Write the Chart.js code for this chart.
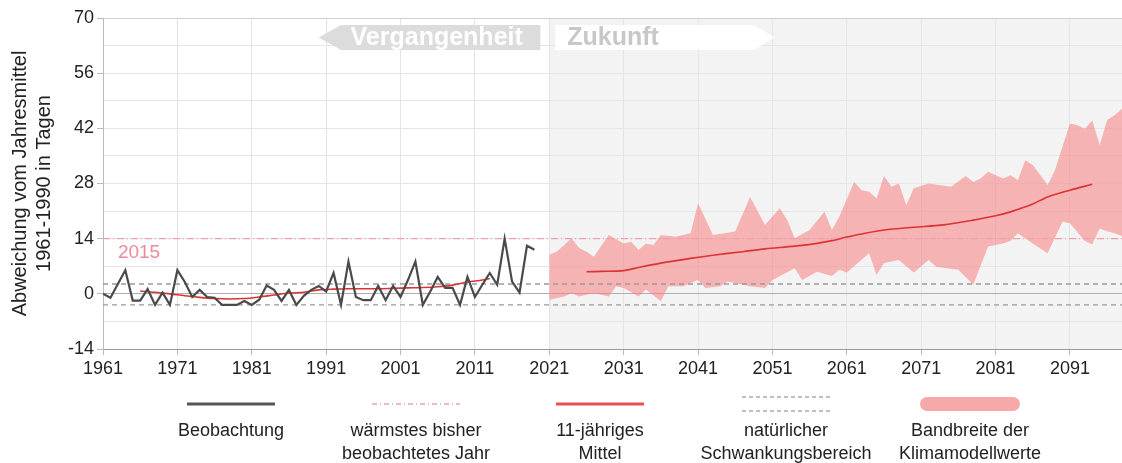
<!DOCTYPE html>
<html>
<head>
<meta charset="utf-8">
<title>Abweichung vom Jahresmittel</title>
<script src="https://cdn.jsdelivr.net/npm/chart.js@4/dist/chart.umd.min.js"></script>
<style>
  body { margin: 0; background: #fff; }
  #wrap { width: 1122px; height: 463px; position: relative; }
</style>
</head>
<body>
<div id="wrap"><canvas id="tageChart"></canvas></div>
<script>
// observed yearly deviation in days, 1961-2019
var firstYear = 1961;
var obsValues = [
  0, -1, 2.5, 6, -1.7, -1.7, 1.2, -2.8, 0.3, -2.8,
  6, 3, -0.8, 1, -0.8, -1, -2.8, -2.8, -2.8, -1.8,
  -2.8, -1.5, 2.1, 1, -1.8, 1, -2.8, -0.5, 1, 2,
  0.6, 5.3, -2.8, 8.2, -0.8, -1.6, -1.6, 2, -1.6, 2,
  -0.8, 3.5, 8.2, -2.8, 0.6, 4.3, 1.5, 1.5, -2.8, 4.3,
  -0.8, 2.3, 5.3, 2.3, 14, 3.1, 0.3, 12.2, 11.2
];

// 11-year running mean, observed part
var meanPastYears = [1966, 1968, 1970, 1972, 1974, 1976, 1978, 1980, 1982, 1984, 1986, 1988, 1990, 1992, 1994, 1996, 1998, 2000, 2002, 2004, 2006, 2008, 2010, 2012, 2013];
var meanPastValues = [0.7, 0.4, 0, -0.5, -0.9, -1.2, -1.3, -1.2, -0.8, -0.3, 0.2, 0.4, 1.0, 1.2, 1.3, 1.3, 1.3, 1.4, 1.5, 1.6, 1.8, 2.2, 3.0, 3.5, 3.9];

// 11-year running mean of the model runs
var meanFutureYears = [2026, 2028, 2031, 2033, 2036, 2040, 2043, 2047, 2050, 2054, 2057, 2059, 2061, 2063, 2066, 2070, 2074, 2078, 2081, 2083, 2086, 2088, 2091, 2094];
var meanFutureValues = [5.6, 5.7, 5.9, 6.7, 7.8, 9.0, 9.8, 10.7, 11.4, 12.1, 12.8, 13.5, 14.4, 15.2, 16.2, 16.9, 17.5, 18.7, 19.8, 20.8, 22.8, 24.6, 26.3, 27.8];

// range of the climate model values
var bandUpperYears = [2021, 2022, 2024, 2025, 2026, 2027, 2029, 2031, 2032, 2033, 2034, 2035, 2036, 2038, 2040, 2041, 2042, 2043, 2046, 2048, 2050, 2052, 2053, 2054, 2056, 2058, 2059, 2060, 2062, 2063, 2064, 2065, 2066, 2067, 2068, 2069, 2070, 2072, 2075, 2077, 2078, 2079, 2080, 2082, 2083, 2084, 2085, 2086, 2088, 2089, 2091, 2092, 2093, 2094, 2095, 2096, 2097, 2098];
var bandUpperValues = [9.9, 10.7, 14.1, 11.6, 10.7, 9.4, 14.9, 12.8, 13.2, 11.1, 12.8, 12.4, 14.9, 14.5, 15.4, 23, 19, 14.9, 15.8, 24.6, 17.5, 21.7, 18.7, 14.1, 16.2, 20.8, 16.2, 19.6, 28.4, 26.3, 25.9, 24.2, 29.9, 27.2, 28, 22.5, 26.8, 28, 27.2, 29.9, 28.4, 29.3, 31, 29.3, 30.1, 28.9, 33.9, 32.7, 27.6, 31.4, 43.2, 42.8, 41.9, 44, 37.7, 44.1, 45.3, 47];
var bandLowerYears = [2021, 2023, 2024, 2025, 2027, 2029, 2030, 2031, 2033, 2034, 2036, 2037, 2039, 2041, 2042, 2044, 2045, 2048, 2050, 2051, 2054, 2055, 2057, 2059, 2060, 2061, 2064, 2065, 2066, 2068, 2070, 2072, 2073, 2076, 2078, 2080, 2082, 2083, 2084, 2086, 2088, 2090, 2091, 2093, 2094, 2095, 2096, 2097, 2098];
var bandLowerValues = [-1.5, -0.7, 0.2, -0.7, 0.2, -0.7, 1.9, 1.5, -0.7, 1.1, -1.9, 1.9, 1.9, 3.5, 1.5, 1.9, 3.1, 1.9, 1.5, 3.5, 6.5, 3.5, 5.6, 4.5, 6.1, 5.4, 10.3, 4.8, 7.8, 8.6, 5.4, 8.6, 6.9, 6.1, 2.3, 12, 12.8, 13.4, 15.4, 12.8, 10.3, 18.3, 17.9, 13.4, 12.6, 16.6, 15.9, 15.4, 14.7];

var warmestYear = 2015;
var naturalRangeLow = -2.8;
var naturalRangeHigh = 2.5;
var futureStart = 2021;

var xMin = 1961;
var xMax = 2098;
var xTickYears = [1961, 1971, 1981, 1991, 2001, 2011, 2021, 2031, 2041, 2051, 2061, 2071, 2081, 2091];
var yMin = -14;
var yMax = 70;

var warmestValue = obsValues[warmestYear - firstYear];

var colObs = '#4a4a4a';
var colMean = '#dc3434';
var colWarm = '#f0a0aa';
var colNatural = '#9a9a9a';
var colBand = 'rgba(245,125,125,0.55)';

function toPoints(years, values) {
  var pts = [];
  for (var i = 0; i < values.length; i++) {
    pts.push({ x: years[i], y: values[i] });
  }
  return pts;
}

var obsPoints = [];
for (var i = 0; i < obsValues.length; i++) {
  obsPoints.push({ x: firstYear + i, y: obsValues[i] });
}

function flatLine(v) {
  return [{ x: xMin, y: v }, { x: xMax, y: v }];
}

Chart.defaults.font.family = "'Liberation Sans', Arial, sans-serif";
Chart.defaults.color = '#222';

// grey background behind the projection years
var futureShade = {
  id: 'futureShade',
  beforeDraw: function (chart) {
    var a = chart.chartArea;
    var x0 = chart.scales.x.getPixelForValue(futureStart);
    var ctx = chart.ctx;
    ctx.save();
    ctx.fillStyle = '#f3f3f3';
    ctx.fillRect(x0, a.top, a.right - x0, a.bottom - a.top);
    ctx.restore();
  }
};

// Vergangenheit / Zukunft arrows and the 2015 label
var annotations = {
  id: 'annotations',
  beforeDatasetsDraw: function (chart) {
    var ctx = chart.ctx;
    var xs = chart.scales.x;
    var ys = chart.scales.y;
    var top = chart.chartArea.top + 7;
    var bot = top + 25;
    var mid = (top + bot) / 2;

    var tip = xs.getPixelForValue(1990);
    var body = xs.getPixelForValue(1993);
    var end = xs.getPixelForValue(2019.8);
    ctx.save();
    ctx.fillStyle = '#dcdcdc';
    ctx.beginPath();
    ctx.moveTo(tip, mid);
    ctx.lineTo(body, top);
    ctx.lineTo(end, top);
    ctx.lineTo(end, bot);
    ctx.lineTo(body, bot);
    ctx.closePath();
    ctx.fill();
    ctx.font = 'bold 25px "Liberation Sans", Arial, sans-serif';
    ctx.fillStyle = '#fff';
    ctx.textAlign = 'center';
    ctx.textBaseline = 'middle';
    ctx.fillText('Vergangenheit', (body + end) / 2 - 4, mid + 1);

    var start = xs.getPixelForValue(2021.8);
    var bodyEnd = xs.getPixelForValue(2048.5);
    var tip2 = xs.getPixelForValue(2051.3);
    ctx.fillStyle = '#ffffff';
    ctx.beginPath();
    ctx.moveTo(start, top);
    ctx.lineTo(bodyEnd, top);
    ctx.lineTo(tip2, mid);
    ctx.lineTo(bodyEnd, bot);
    ctx.lineTo(start, bot);
    ctx.closePath();
    ctx.fill();
    ctx.fillStyle = '#c8c8c8';
    ctx.textAlign = 'left';
    ctx.fillText('Zukunft', start + 12, mid + 1);

    ctx.font = '19px "Liberation Sans", Arial, sans-serif';
    ctx.fillStyle = '#f08a98';
    ctx.textAlign = 'left';
    ctx.textBaseline = 'middle';
    ctx.fillText(String(warmestYear), xs.getPixelForValue(1963), ys.getPixelForValue(warmestValue) + 14);
    ctx.restore();
  }
};

// legend row under the x axis
var legendRow = {
  id: 'legendRow',
  afterDraw: function (chart) {
    var ctx = chart.ctx;
    var items = [
      { cx: 231, kind: 'obs', text: ['Beobachtung'] },
      { cx: 416, kind: 'warm', text: ['wärmstes bisher', 'beobachtetes Jahr'] },
      { cx: 600, kind: 'mean', text: ['11-jähriges', 'Mittel'] },
      { cx: 786, kind: 'natural', text: ['natürlicher', 'Schwankungsbereich'] },
      { cx: 970, kind: 'band', text: ['Bandbreite der', 'Klimamodellwerte'] }
    ];
    var sy = 404;
    ctx.save();
    items.forEach(function (it) {
      var x0 = it.cx - 44;
      var x1 = it.cx + 44;
      ctx.setLineDash([]);
      if (it.kind === 'obs' || it.kind === 'mean') {
        ctx.strokeStyle = it.kind === 'obs' ? '#555' : '#e85050';
        ctx.lineWidth = 3;
        ctx.beginPath();
        ctx.moveTo(x0, sy);
        ctx.lineTo(x1, sy);
        ctx.stroke();
      } else if (it.kind === 'warm') {
        ctx.strokeStyle = colWarm;
        ctx.lineWidth = 1.5;
        ctx.setLineDash([5, 3, 1, 3]);
        ctx.beginPath();
        ctx.moveTo(x0, sy);
        ctx.lineTo(x1, sy);
        ctx.stroke();
      } else if (it.kind === 'natural') {
        ctx.strokeStyle = '#aaa';
        ctx.lineWidth = 1.3;
        ctx.setLineDash([4, 3]);
        ctx.beginPath();
        ctx.moveTo(x0, sy - 7);
        ctx.lineTo(x1, sy - 7);
        ctx.moveTo(x0, sy + 7);
        ctx.lineTo(x1, sy + 7);
        ctx.stroke();
      } else {
        ctx.fillStyle = '#f7a9a9';
        ctx.beginPath();
        ctx.roundRect(it.cx - 50, sy - 7, 100, 14, 7);
        ctx.fill();
      }
      ctx.setLineDash([]);
      ctx.font = '18px "Liberation Sans", Arial, sans-serif';
      ctx.fillStyle = '#222';
      ctx.textAlign = 'center';
      ctx.textBaseline = 'middle';
      it.text.forEach(function (t, k) {
        ctx.fillText(t, it.cx, 431 + k * 23);
      });
    });
    ctx.restore();
  }
};

var ctxEl = document.querySelector('#tageChart');
window.tageChart = new Chart(ctxEl, {
  type: 'line',
  data: {
    datasets: [
      {
        label: 'Beobachtung',
        data: obsPoints,
        borderColor: colObs,
        borderWidth: 2.2,
        pointRadius: 0,
        fill: false
      },
      {
        label: '11-jähriges Mittel',
        data: toPoints(meanPastYears, meanPastValues),
        borderColor: colMean,
        borderWidth: 1.6,
        pointRadius: 0,
        tension: 0.3,
        fill: false
      },
      {
        label: '11-jähriges Mittel Modell',
        data: toPoints(meanFutureYears, meanFutureValues),
        borderColor: colMean,
        borderWidth: 1.6,
        pointRadius: 0,
        tension: 0.3,
        fill: false
      },
      {
        label: 'wärmstes bisher beobachtetes Jahr',
        data: flatLine(warmestValue),
        borderColor: colWarm,
        borderWidth: 1.2,
        borderDash: [7, 3, 1, 3],
        pointRadius: 0,
        fill: false
      },
      {
        label: 'natürlicher Schwankungsbereich oben',
        data: flatLine(naturalRangeHigh),
        borderColor: colNatural,
        borderWidth: 1.3,
        borderDash: [5, 4],
        pointRadius: 0,
        fill: false
      },
      {
        label: 'natürlicher Schwankungsbereich unten',
        data: flatLine(naturalRangeLow),
        borderColor: colNatural,
        borderWidth: 1.3,
        borderDash: [5, 4],
        pointRadius: 0,
        fill: false
      },
      {
        label: 'Bandbreite oben',
        data: toPoints(bandUpperYears, bandUpperValues),
        borderWidth: 0,
        borderColor: 'rgba(0,0,0,0)',
        backgroundColor: colBand,
        pointRadius: 0,
        fill: '+1'
      },
      {
        label: 'Bandbreite unten',
        data: toPoints(bandLowerYears, bandLowerValues),
        borderWidth: 0,
        borderColor: 'rgba(0,0,0,0)',
        pointRadius: 0,
        fill: false
      }
    ]
  },
  options: {
    responsive: true,
    maintainAspectRatio: false,
    animation: false,
    layout: { padding: { top: 18, right: 0, left: 0, bottom: 0 } },
    plugins: {
      legend: { display: false },
      tooltip: { enabled: false }
    },
    scales: {
      x: {
        type: 'linear',
        min: xMin,
        max: xMax,
        afterBuildTicks: function (scale) {
          scale.ticks = xTickYears.map(function (v) { return { value: v }; });
        },
        afterFit: function (scale) { scale.height = 114; },
        grid: {
          color: '#e4e4e4',
          tickColor: '#bbb',
          tickLength: 6
        },
        border: { color: '#999' },
        ticks: {
          font: { size: 18 },
          color: '#222',
          padding: 3,
          maxRotation: 0,
          callback: function (v) { return String(v); }
        }
      },
      y: {
        min: yMin,
        max: yMax,
        afterFit: function (scale) { scale.width = 103; },
        grid: {
          color: function (c) {
            if (c.tick.value === 0) return '#b0b0b0';
            if (c.tick.value === yMax) return '#cfcfcf';
            return '#e6e6e6';
          },
          tickColor: function (c) {
            return c.tick.value % 14 === 0 ? '#bbb' : 'rgba(0,0,0,0)';
          },
          tickLength: 6
        },
        border: { color: '#bbb' },
        ticks: {
          stepSize: 7,
          font: { size: 18 },
          color: '#222',
          padding: 3,
          callback: function (v) { return v % 14 === 0 ? String(v) : ''; }
        },
        title: {
          display: true,
          text: ['Abweichung vom Jahresmittel', '1961-1990 in Tagen'],
          font: { size: 20 },
          color: '#222',
          padding: { top: 8, bottom: 0 }
        }
      }
    }
  },
  plugins: [futureShade, annotations, legendRow]
});
</script>
</body>
</html>
